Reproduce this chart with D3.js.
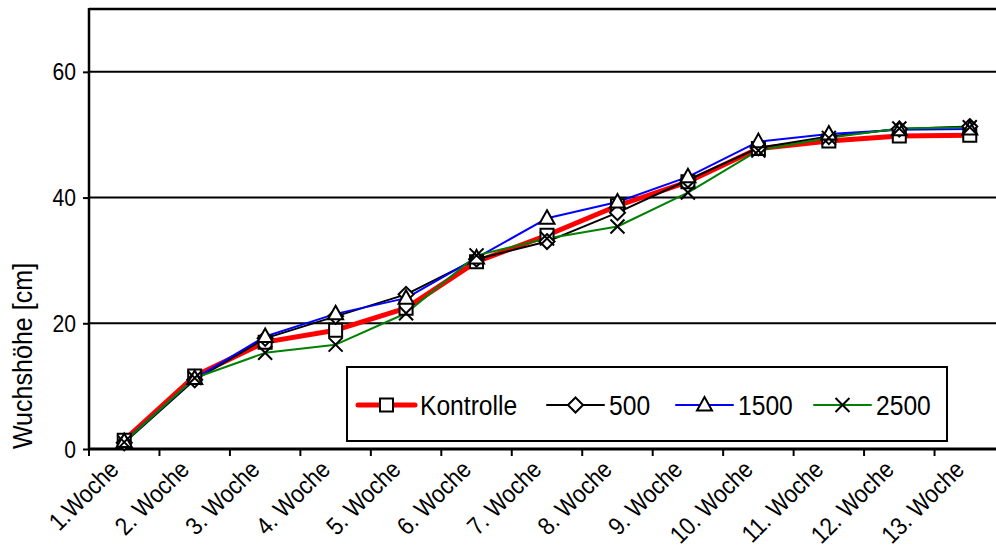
<!DOCTYPE html>
<html><head><meta charset="utf-8">
<script src="https://cdn.jsdelivr.net/npm/d3@7"></script>
<style>html,body{margin:0;padding:0;background:#fff;} svg{display:block;font-family:"Liberation Sans",Arial,sans-serif;}</style>
</head><body>
<svg id="c" width="996" height="554"></svg>
<script>
const weeks = ["1.Woche","2. Woche","3. Woche","4. Woche","5. Woche","6. Woche","7. Woche","8. Woche","9. Woche","10. Woche","11. Woche","12. Woche","13. Woche"];
const kontrolle = [1.4, 11.6, 17.0, 18.9, 22.4, 29.8, 34.0, 38.7, 42.5, 47.8, 49.0, 49.8, 49.9];
const s500      = [1.0, 11.0, 17.6, 21.1, 24.6, 30.2, 33.0, 37.6, 42.8, 47.9, 49.7, 50.9, 51.3];
const s1500     = [1.2, 11.2, 17.9, 21.5, 24.0, 30.4, 36.7, 39.3, 43.3, 48.9, 50.1, 50.8, 50.9];
const s2500     = [1.1, 11.3, 15.3, 16.6, 21.6, 30.8, 33.5, 35.4, 40.8, 47.5, 49.5, 51.0, 51.2];
const yTicks = [0, 20, 40, 60];
const seriesNames = ["Kontrolle","500","1500","2500"];

(function(){
const series = [
  {name: seriesNames[0], values: kontrolle, color: "#ff0000", width: 5, marker: "square"},
  {name: seriesNames[1], values: s500, color: "#000000", width: 2, marker: "diamond"},
  {name: seriesNames[2], values: s1500, color: "#0000ff", width: 2, marker: "triangle"},
  {name: seriesNames[3], values: s2500, color: "#008000", width: 2, marker: "x"}
];

const svg = d3.select("#c");
const pl = 89, pt = 9, pb = 449, pr = 1005;
const x = d3.scaleBand().domain(weeks).range([pl, pr]);
const y = d3.scaleLinear().domain([0, 70]).range([pb, pt]);
const SX = 0.88;

function markerPath(type){
  if(type==="square"){const h=6.5;return `M${-h},${-h}H${h}V${h}H${-h}Z`;}
  if(type==="diamond"){const h=7.5;return `M0,${-h}L${h},0L0,${h}L${-h},0Z`;}
  if(type==="triangle"){return `M0,-8L7.5,5.5L-7.5,5.5Z`;}
  const h=7;return `M${-h},${-h}L${h},${h}M${h},${-h}L${-h},${h}`;
}

// gridlines
svg.append("g").selectAll("line").data(yTicks.filter(d=>d>0)).join("line")
  .attr("x1", pl).attr("x2", pr).attr("y1", d=>y(d)).attr("y2", d=>y(d))
  .attr("stroke", "#000").attr("stroke-width", 2);
// top border
svg.append("line").attr("x1", pl).attr("x2", pr).attr("y1", y(70)).attr("y2", y(70))
  .attr("stroke", "#000").attr("stroke-width", 2.5);

// y axis
const yAxis = svg.append("g").attr("transform", `translate(${pl},0)`)
  .call(d3.axisLeft(y).tickValues(yTicks).tickSize(6).tickPadding(8).tickFormat(d3.format("d")));
yAxis.select(".domain").remove();
yAxis.selectAll(".tick line").attr("stroke", "#000").attr("stroke-width", 2);
yAxis.selectAll(".tick text").attr("font-size", 24).attr("fill", "#000")
  .attr("x", null).attr("dy", null)
  .attr("transform", "translate(-13,8) scale(" + SX + ",1)");
svg.append("line").attr("x1", pl).attr("x2", pl).attr("y1", pt - 1).attr("y2", pb + 1)
  .attr("stroke", "#000").attr("stroke-width", 2.5);

// x axis
const xAxis = svg.append("g").attr("transform", `translate(0,${pb})`)
  .call(d3.axisBottom(x).tickSize(0).tickFormat(""));
xAxis.select(".domain").remove();
const tickPos = weeks.map(w => x(w));
svg.append("g").selectAll("line").data(tickPos).join("line")
  .attr("x1", d=>d).attr("x2", d=>d).attr("y1", pb).attr("y2", pb + 7)
  .attr("stroke", "#000").attr("stroke-width", 2);
svg.append("line").attr("x1", pl - 1).attr("x2", pr).attr("y1", pb).attr("y2", pb)
  .attr("stroke", "#000").attr("stroke-width", 3);
svg.append("g").selectAll("text").data(weeks).join("text")
  .attr("transform", d => `translate(${x(d) + x.bandwidth()/2 - 4},${pb + 22}) rotate(-45) scale(${SX},1)`)
  .attr("text-anchor", "end").attr("font-size", 25).attr("fill", "#000").text(d => d);

// y title
svg.append("text").attr("transform", `translate(32,356) rotate(-90) scale(${SX},1)`)
  .attr("text-anchor", "middle").attr("font-size", 28.5).attr("fill", "#000").text("Wuchshöhe [cm]");

// lines
const line = d3.line().x((d,i) => x(weeks[i]) + x.bandwidth()/2).y(d => y(d));
svg.append("g").selectAll("path").data(series).join("path")
  .attr("d", s => line(s.values)).attr("fill", "none")
  .attr("stroke", s => s.color).attr("stroke-width", s => s.width).attr("stroke-linejoin", "round");
// markers
series.forEach(s => {
  svg.append("g").selectAll("path").data(s.values).join("path")
    .attr("transform", (d,i) => `translate(${x(weeks[i]) + x.bandwidth()/2},${y(d)})`)
    .attr("d", markerPath(s.marker))
    .attr("fill", s.marker === "x" ? "none" : "#fff")
    .attr("stroke", "#000").attr("stroke-width", 2);
});

// legend
const lg = svg.append("g");
lg.append("rect").attr("x", 347).attr("y", 367).attr("width", 600).attr("height", 74)
  .attr("fill", "#fff").attr("stroke", "#000").attr("stroke-width", 2);
const legX = [358, 547, 676, 814];
const legY = 405;
series.forEach((s, i) => {
  const g = lg.append("g").attr("transform", `translate(${legX[i]},${legY})`);
  g.append("line").attr("x1", 0).attr("x2", 57).attr("y1", 0).attr("y2", 0)
    .attr("stroke", s.color).attr("stroke-width", s.width).attr("stroke-linecap", "round");
  g.append("path").attr("transform", "translate(28.5,0)").attr("d", markerPath(s.marker))
    .attr("fill", s.marker === "x" ? "none" : "#fff").attr("stroke", "#000").attr("stroke-width", 2);
  g.append("text").attr("transform", `translate(62,10) scale(${SX},1)`)
    .attr("font-size", 28).attr("fill", "#000").text(s.name);
});
})();
</script>
</body></html>
